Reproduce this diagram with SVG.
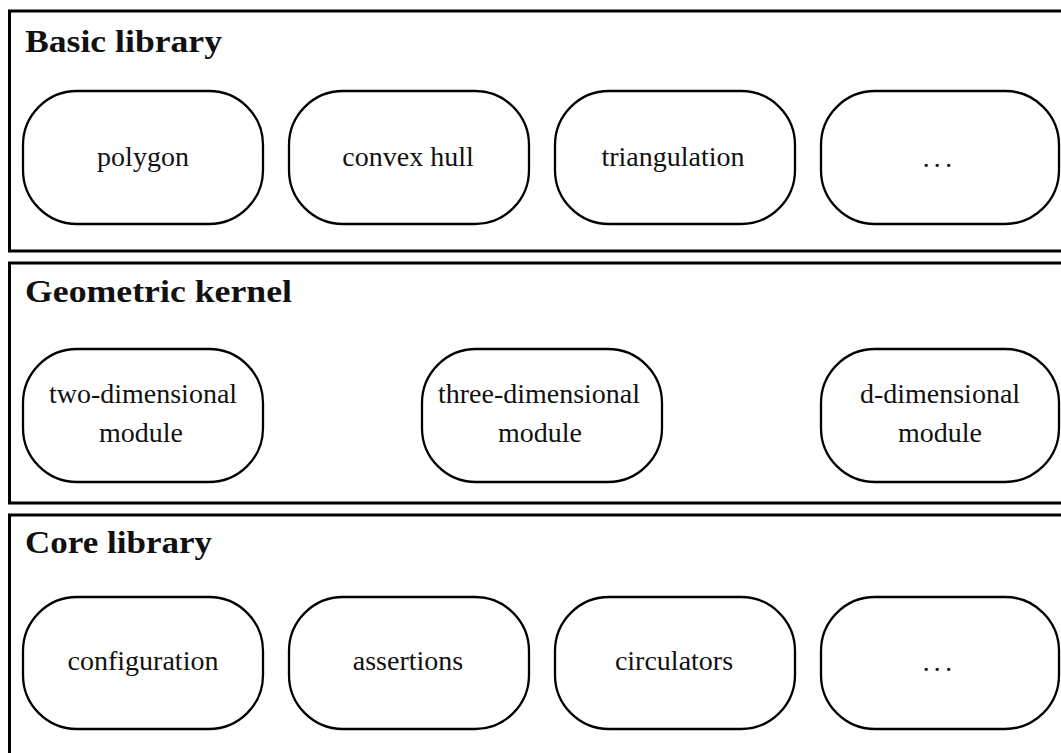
<svg xmlns="http://www.w3.org/2000/svg" width="1061" height="753" viewBox="0 0 1061 753">
<style>
.layer{fill:none;stroke:#000;stroke-width:3}
.pill{fill:#fff;stroke:#000;stroke-width:2.3}
.title{font-family:"Liberation Serif",serif;font-weight:bold;font-size:31px;fill:#111}
.lbl{font-family:"Liberation Serif",serif;font-size:28px;fill:#111;text-anchor:middle}
.dots{font-family:"Liberation Serif",serif;font-size:28px;fill:#111}
</style>
<rect width="1061" height="753" fill="#fff"/>
<g id="connectors"></g>
<g id="basic-library">
<rect class="layer" x="9.5" y="11" width="1070" height="240"/>
<text class="title" x="25" y="52" textLength="197" lengthAdjust="spacingAndGlyphs">Basic library</text>
</g>
<g id="polygon"><rect class="pill" x="23" y="91" width="240" height="133" rx="54" ry="54"/><text class="lbl" x="143" y="166">polygon</text></g>
<g id="convex-hull"><rect class="pill" x="289" y="91" width="240" height="133" rx="54" ry="54"/><text class="lbl" x="408" y="166">convex hull</text></g>
<g id="triangulation"><rect class="pill" x="555" y="91" width="240" height="133" rx="54" ry="54"/><text class="lbl" x="673" y="166">triangulation</text></g>
<g id="basic-more"><rect class="pill" x="821" y="91" width="238" height="133" rx="54" ry="54"/><text class="dots" x="921.5 932.5 944" y="175">···</text></g>
<g id="geometric-kernel">
<rect class="layer" x="9.5" y="263" width="1070" height="240"/>
<text class="title" x="25" y="302" textLength="267" lengthAdjust="spacingAndGlyphs">Geometric kernel</text>
</g>
<g id="two-dim"><rect class="pill" x="23" y="349" width="240" height="133" rx="54" ry="54"/><text class="lbl" x="143" y="403">two-dimensional</text><text class="lbl" x="141" y="442">module</text></g>
<g id="three-dim"><rect class="pill" x="422" y="349" width="240" height="133" rx="54" ry="54"/><text class="lbl" x="539" y="403">three-dimensional</text><text class="lbl" x="540" y="442">module</text></g>
<g id="d-dim"><rect class="pill" x="821" y="349" width="238" height="133" rx="54" ry="54"/><text class="lbl" x="940" y="403">d-dimensional</text><text class="lbl" x="940" y="442">module</text></g>
<g id="core-library">
<rect class="layer" x="9.5" y="515" width="1070" height="260"/>
<text class="title" x="25" y="553" textLength="187" lengthAdjust="spacingAndGlyphs">Core library</text>
</g>
<g id="configuration"><rect class="pill" x="23" y="597" width="240" height="132" rx="54" ry="54"/><text class="lbl" x="143" y="670">configuration</text></g>
<g id="assertions"><rect class="pill" x="289" y="597" width="240" height="132" rx="54" ry="54"/><text class="lbl" x="408" y="670">assertions</text></g>
<g id="circulators"><rect class="pill" x="555" y="597" width="240" height="132" rx="54" ry="54"/><text class="lbl" x="674" y="670">circulators</text></g>
<g id="core-more"><rect class="pill" x="821" y="597" width="238" height="132" rx="54" ry="54"/><text class="dots" x="921.5 932.5 944" y="679">···</text></g>
</svg>
